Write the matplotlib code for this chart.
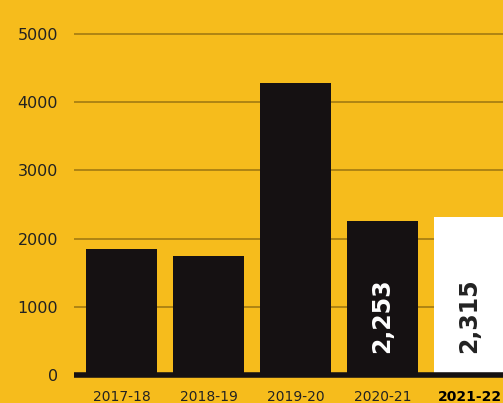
import matplotlib.pyplot as plt

# Data
years = ["2017-18", "2018-19", "2019-20", "2020-21", "2021-22"]
values = [1850, 1745, 4280, 2253, 2315]
labels = ["", "", "", "2,253", "2,315"]

bg = "#F6BC1C"
bar_dark = "#151112"

fig = plt.figure(figsize=(5.03, 4.03), dpi=100, facecolor=bg)
ax = fig.add_axes([74 / 503, 28 / 403, (503 - 74) / 503, 375 / 403])
ax.set_facecolor(bg)

colors = [bar_dark] * 4 + ["white"]
x = range(len(years))
ax.bar(x, values, width=0.816, color=colors, zorder=2)

for i, (v, lab) in enumerate(zip(values, labels)):
    if lab:
        c = "white" if colors[i] != "white" else "#222222"
        ax.text(i, 320, lab, rotation=90, ha="center", va="bottom",
                fontsize=17, fontweight="heavy", color=c, zorder=3)

ax.set_xlim(-0.546, 4.385)
ax.set_ylim(0, 5498)
ax.set_yticks([0, 1000, 2000, 3000, 4000, 5000])
ax.set_yticklabels(["0", "1000", "2000", "3000", "4000", "5000"])
ax.set_xticks(list(x))
ax.set_xticklabels(years)
ax.tick_params(axis="y", length=0, pad=11.5, labelsize=11.5, labelcolor="#222222")
ax.tick_params(axis="x", length=0, pad=10.5, labelsize=10, labelcolor="#222222")
ax.get_xticklabels()[-1].set_fontweight("bold")
ax.get_xticklabels()[-1].set_color("black")

ax.yaxis.grid(True, color="#A27B12", linewidth=1.2, zorder=0)
ax.set_axisbelow(True)
for s in ["top", "right", "left"]:
    ax.spines[s].set_visible(False)
ax.spines["bottom"].set_color(bar_dark)
ax.spines["bottom"].set_linewidth(4)
ax.spines["bottom"].set_capstyle("butt")
ax.spines["bottom"].set_zorder(4)

fig.savefig("out.png", dpi=100, facecolor=bg)
